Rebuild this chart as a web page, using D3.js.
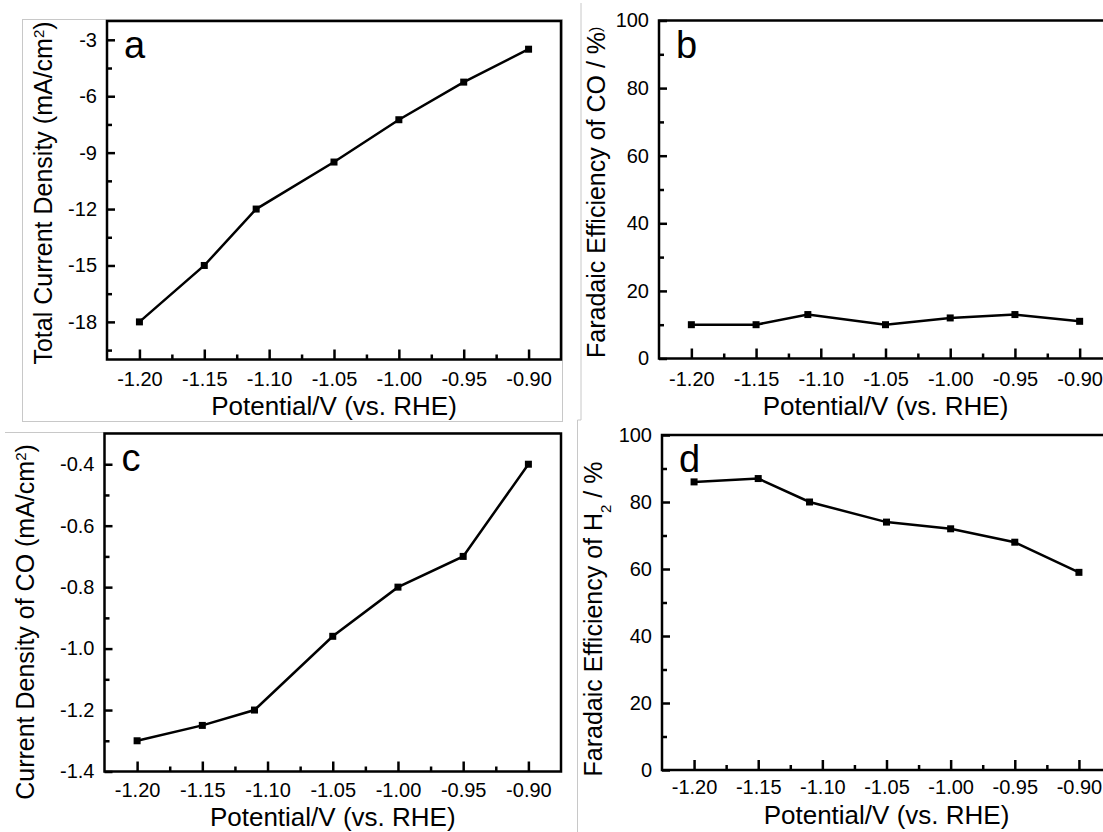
<!DOCTYPE html>
<html>
<head>
<meta charset="utf-8">
<script src="https://cdn.jsdelivr.net/npm/d3@7"></script>
<style>
  body { margin: 0; background: #fff; }
  svg { display: block; font-family: "Liberation Sans", Arial, sans-serif; }
</style>
</head>
<body>
<svg id="chart" width="1103" height="832"></svg>
<script>
// values
var potentials = [-1.20, -1.15, -1.11, -1.05, -1.00, -0.95, -0.90];
var totalCurrent = [-18, -15, -12, -9.5, -7.25, -5.25, -3.5];
var feCO = [10, 10, 13, 10, 12, 13, 11];
var coCurrent = [-1.30, -1.25, -1.20, -0.96, -0.80, -0.70, -0.40];
var feH2 = [86, 87, 80, 74, 72, 68, 59];

var xTicks = [-1.20, -1.15, -1.10, -1.05, -1.00, -0.95, -0.90];
var yTicksA = [-18, -15, -12, -9, -6, -3];
var yTicksPct = [0, 20, 40, 60, 80, 100];
var yTicksC = [-1.4, -1.2, -1.0, -0.8, -0.6, -0.4];

var svg = d3.select("#chart");
var grey = "#c8c8c8";

// thin grey borders left over from the pasted panels
svg.append("rect").attr("x", 22.5).attr("y", 19.5).attr("width", 540).attr("height", 402)
  .attr("fill", "none").attr("stroke", grey).attr("stroke-width", 1);
svg.append("line").attr("x1", 581).attr("x2", 581).attr("y1", 3).attr("y2", 420)
  .attr("stroke", grey);
svg.append("line").attr("x1", 577.5).attr("x2", 581).attr("y1", 420).attr("y2", 420)
  .attr("stroke", grey);
svg.append("line").attr("x1", 577.5).attr("x2", 577.5).attr("y1", 420).attr("y2", 832)
  .attr("stroke", grey);
svg.append("line").attr("x1", 5).attr("x2", 560).attr("y1", 432.5).attr("y2", 432.5)
  .attr("stroke", grey);

function hyphen(f) {
  return function(d) { return f(d).replace("\u2212", "-"); };
}

function drawPanel(p) {
  var g = svg.append("g");
  var x = d3.scaleLinear().domain([-1.225, -0.875]).range([p.left, p.right]);
  var y = d3.scaleLinear().domain(p.yDomain).range([p.bottom, p.top]);

  var xMinor = xTicks.slice(0, -1).map(function(t){ return t + 0.025; });

  // x axis, ticks pointing inwards
  var xa = g.append("g").attr("transform", "translate(0," + p.bottom + ")")
    .call(d3.axisBottom(x).tickValues(xTicks).tickSize(-10).tickPadding(p.xPad)
      .tickFormat(hyphen(d3.format(".2f"))));
  xa.selectAll(".tick line").attr("stroke-width", 2.5);
  xa.selectAll(".tick text").attr("font-size", 20).attr("fill", "#000")
    .attr("font-family", "Liberation Sans, Arial, sans-serif");
  xa.select(".domain").remove();
  g.append("g").attr("transform", "translate(0," + p.bottom + ")")
    .call(d3.axisBottom(x).tickValues(xMinor).tickSize(-5).tickFormat(""))
    .call(function(s){ s.select(".domain").remove(); s.selectAll("line").attr("stroke-width", 2.5); });

  // y axis
  var ya = g.append("g").attr("transform", "translate(" + p.left + ",0)")
    .call(d3.axisLeft(y).tickValues(p.yTicks).tickSize(-8).tickPadding(10)
      .tickFormat(hyphen(d3.format(p.yFormat))));
  ya.selectAll(".tick line").attr("stroke-width", 2.5);
  ya.selectAll(".tick text").attr("font-size", 20).attr("fill", "#000")
    .attr("font-family", "Liberation Sans, Arial, sans-serif");
  ya.select(".domain").remove();
  g.append("g").attr("transform", "translate(" + p.left + ",0)")
    .call(d3.axisLeft(y).tickValues(p.yMinor).tickSize(-5).tickFormat(""))
    .call(function(s){ s.select(".domain").remove(); s.selectAll("line").attr("stroke-width", 2.5); });

  // frame
  g.append("rect").attr("x", p.left).attr("y", p.top)
    .attr("width", p.right - p.left).attr("height", p.bottom - p.top)
    .attr("fill", "none").attr("stroke", "#000").attr("stroke-width", 2.5);

  var pts = potentials.map(function(v, i){ return [v, p.values[i]]; });
  g.append("path").datum(pts)
    .attr("fill", "none").attr("stroke", "#000").attr("stroke-width", 2.5)
    .attr("d", d3.line().x(function(d){ return x(d[0]); }).y(function(d){ return y(d[1]); }));
  g.selectAll("rect.pt").data(pts).enter().append("rect").attr("class", "pt")
    .attr("x", function(d){ return x(d[0]) - 3.5; })
    .attr("y", function(d){ return y(d[1]) - 3.5; })
    .attr("width", 7).attr("height", 7).attr("fill", "#000");

  // panel letter
  g.append("text").attr("x", p.left + 17).attr("y", p.top + 37)
    .attr("font-size", 38).text(p.letter);

  // x title
  g.append("text").attr("x", x(-1.05)).attr("y", p.xTitleY)
    .attr("text-anchor", "middle").attr("font-size", 26).text("Potential/V (vs. RHE)");

  // y title
  var yt = g.append("text")
    .attr("transform", "translate(" + p.yTitleX + "," + p.yTitleY + ") rotate(-90)")
    .attr("text-anchor", p.yAnchor).attr("font-size", 25);
  p.yTitle.forEach(function(part){
    var t = yt.append("tspan").text(part.t);
    if (part.sup) t.attr("font-size", 15).attr("baseline-shift", "super");
    if (part.sub) t.attr("font-size", 15).attr("baseline-shift", "sub");
    if (part.small) t.attr("font-size", 16).attr("baseline-shift", "4");
  });
}

drawPanel({
  letter: "a", left: 107, right: 561, top: 21, bottom: 359.5,
  yDomain: [-20, -2], yTicks: yTicksA, yMinor: [-19.5, -16.5, -13.5, -10.5, -7.5, -4.5],
  yFormat: "d", values: totalCurrent, xPad: 12,
  xTitleY: 415, yTitleX: 52, yTitleY: 193, yAnchor: "middle",
  yTitle: [{t: "Total Current Density (mA/cm"}, {t: "2", sup: true}, {t: ")"}]
});

drawPanel({
  letter: "b", left: 659, right: 1112, top: 20.5, bottom: 358.5,
  yDomain: [0, 100], yTicks: yTicksPct, yMinor: [10, 30, 50, 70, 90],
  yFormat: "d", values: feCO, xPad: 13,
  xTitleY: 415, yTitleX: 605, yTitleY: 358, yAnchor: "start",
  yTitle: [{t: "Faradaic Efficiency of CO / %"}, {t: ")", small: true}]
});

drawPanel({
  letter: "c", left: 104.5, right: 561, top: 433.5, bottom: 771.5,
  yDomain: [-1.4, -0.3], yTicks: yTicksC, yMinor: [-1.3, -1.1, -0.9, -0.7, -0.5],
  yFormat: ".1f", values: coCurrent, xPad: 11,
  xTitleY: 825.5, yTitleX: 34, yTitleY: 622, yAnchor: "middle",
  yTitle: [{t: "Current Density of CO (mA/cm"}, {t: "2", sup: true}, {t: ")"}]
});

drawPanel({
  letter: "d", left: 662, right: 1111, top: 435, bottom: 770,
  yDomain: [0, 100], yTicks: yTicksPct, yMinor: [10, 30, 50, 70, 90],
  yFormat: "d", values: feH2, xPad: 10,
  xTitleY: 824, yTitleX: 602, yTitleY: 619, yAnchor: "middle",
  yTitle: [{t: "Faradaic Efficiency of H"}, {t: "2", sub: true}, {t: "  / %"}]
});
</script>
</body>
</html>
